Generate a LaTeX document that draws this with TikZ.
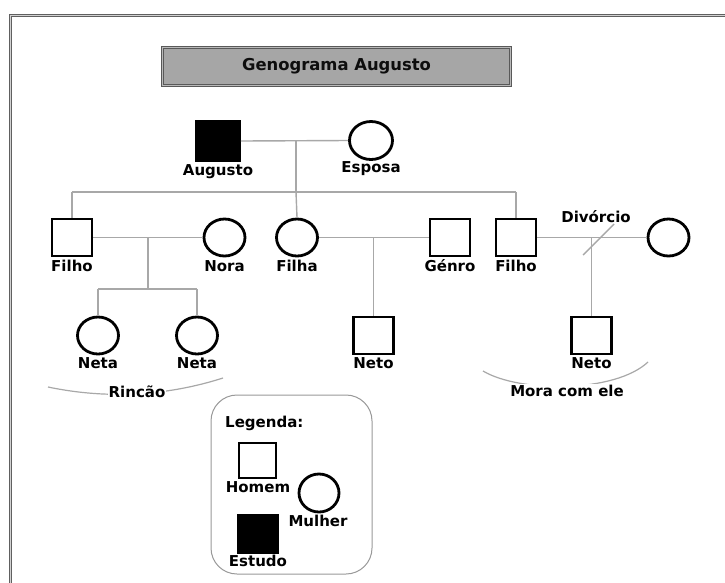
\documentclass[tikz,border=0pt]{standalone}
\usepackage{fontspec}
\setmainfont{DejaVu Sans}
\usetikzlibrary{shapes.geometric}
\definecolor{linkgray}{HTML}{A8A8A8}
\definecolor{titlegray}{HTML}{A6A6A6}
\tikzset{
  male/.style={rectangle, draw=black, line width=2.8pt, minimum width=40pt, minimum height=37pt, inner sep=0pt, fill=white},
  study/.style={male, fill=black},
  female/.style={ellipse, draw=black, line width=2.8pt, minimum width=41pt, minimum height=37pt, inner sep=0pt, fill=white},
  lbl/.style={inner sep=0pt, font=\bfseries\fontsize{15}{17}\selectfont, text=black},
  link/.style={draw=linkgray, line width=1.4pt},
  arcline/.style={draw=linkgray, line width=1.2pt},
}
\begin{document}
\begin{tikzpicture}[x=1pt,y=-1pt]
\useasboundingbox (0,0) rectangle (725,582);
\clip (0,0) rectangle (725,582);
\fill[white] (0,0) rectangle (725,582);
% outer frame
\draw[draw=gray!75!black, double=gray!35, double distance=1pt, line width=1pt] (10.5,15.5) rectangle (760,620);
% title
\node[rectangle, draw=gray!70!black, double=gray!55, double distance=0.8pt, line width=0.7pt, fill=titlegray, minimum width=348pt, minimum height=38pt, font=\bfseries\fontsize{16.4}{18}\selectfont, text=black!95] (title) at (336.5,66.5) {Genograma Augusto};

% generation 1
\node[study, minimum width=43pt, minimum height=39pt] (aug) at (218,141) {};
\node[female, minimum width=43pt, minimum height=38pt] (esp) at (371,140.5) {};
\node[lbl] (laug) at (218,172) {Augusto};
\node[lbl] (lesp) at (371,169) {Esposa};

% generation 2
\node[male] (f1) at (72,237.5) {};
\node[female] (nora) at (224.5,237.5) {};
\node[female] (filha) at (297,237.5) {};
\node[male] (genro) at (450,237.5) {};
\node[male] (f2) at (516,237.5) {};
\node[female] (ex) at (668.5,237.5) {};
\node[lbl] (lf1) at (72,266) {Filho};
\node[lbl] (lnora) at (224.5,266) {Nora};
\node[lbl] (lfilha) at (297,266) {Filha};
\node[lbl] (lgenro) at (450,266) {Génro};
\node[lbl] (lf2) at (516,266) {Filho};
\node[lbl] (ldiv) at (596,217) {Divórcio};

% generation 3
\node[female] (neta1) at (98,335.5) {};
\node[female] (neta2) at (197,335.5) {};
\node[male] (neto1) at (373.5,335.5) {};
\node[male] (neto2) at (591.5,335.5) {};
\node[lbl] (lneta1) at (98,363) {Neta};
\node[lbl] (lneta2) at (197,363) {Neta};
\node[lbl] (lneto1) at (373.5,363) {Neto};
\node[lbl] (lneto2) at (591.5,363) {Neto};

% junction coordinates
\coordinate (m0) at (296,141);
\coordinate (c0) at (296,192);
\coordinate (cl) at (72,192);
\coordinate (cr) at (516,192);
\coordinate (m1) at (148,237.5);
\coordinate (g1) at (148,289);
\coordinate (g1l) at (98,289);
\coordinate (g1r) at (197,289);
\coordinate (m2) at (373.5,237.5);
\coordinate (m3) at (591.5,237.5);
\coordinate (d1) at (583,255);
\coordinate (d2) at (614,224);

% connectors
\path[link] (aug.east) -- (esp.west);
\path[link] (m0) -- (c0);
\path[link] (cl) -- (cr);
\path[link] (cl) -- (f1.north);
\path[link] (c0) -- (filha.north);
\path[link] (cr) -- (f2.north);
\path[link] (f1.east) -- (nora.west);
\path[link] (m1) -- (g1);
\path[link] (g1l) -- (g1r);
\path[link] (g1l) -- (neta1.north);
\path[link] (g1r) -- (neta2.north);
\path[link] (filha.east) -- (genro.west);
\path[link] (m2) -- (neto1.north);
\path[link] (f2.east) -- (ex.west);
\path[link] (m3) -- (neto2.north);
\path[link] (d1) -- (d2);

% group arcs
\coordinate (ra) at (48,387);
\coordinate (rb) at (223,378);
\path[arcline] (ra) .. controls (110,400) and (170,395) .. (rb);
\coordinate (ma) at (483,371);
\coordinate (mb) at (648,362);
\path[arcline] (ma) .. controls (520,393) and (615,393) .. (mb);
\node[lbl, fill=white, inner sep=1pt] (lrin) at (137,392) {Rincão};
\node[lbl, fill=white, inner sep=1pt] (lmora) at (567,391) {Mora com ele};

% legend
\draw[draw=gray!80, line width=1pt, rounded corners=26pt] (211,395) rectangle (372,574);
\node[lbl, anchor=west] (lleg) at (225,423) {Legenda:};
\node[male, minimum width=37pt, minimum height=35pt] (lhom) at (257.5,460.5) {};
\node[female, minimum width=40pt, minimum height=38pt] (lmul) at (319,493) {};
\node[study, minimum width=40pt, minimum height=38pt] (lest) at (258,534) {};
\node[lbl] (tlhom) at (258,487) {Homem};
\node[lbl] (tlmul) at (318,521) {Mulher};
\node[lbl] (tlest) at (258,561) {Estudo};
\end{tikzpicture}
\end{document}
